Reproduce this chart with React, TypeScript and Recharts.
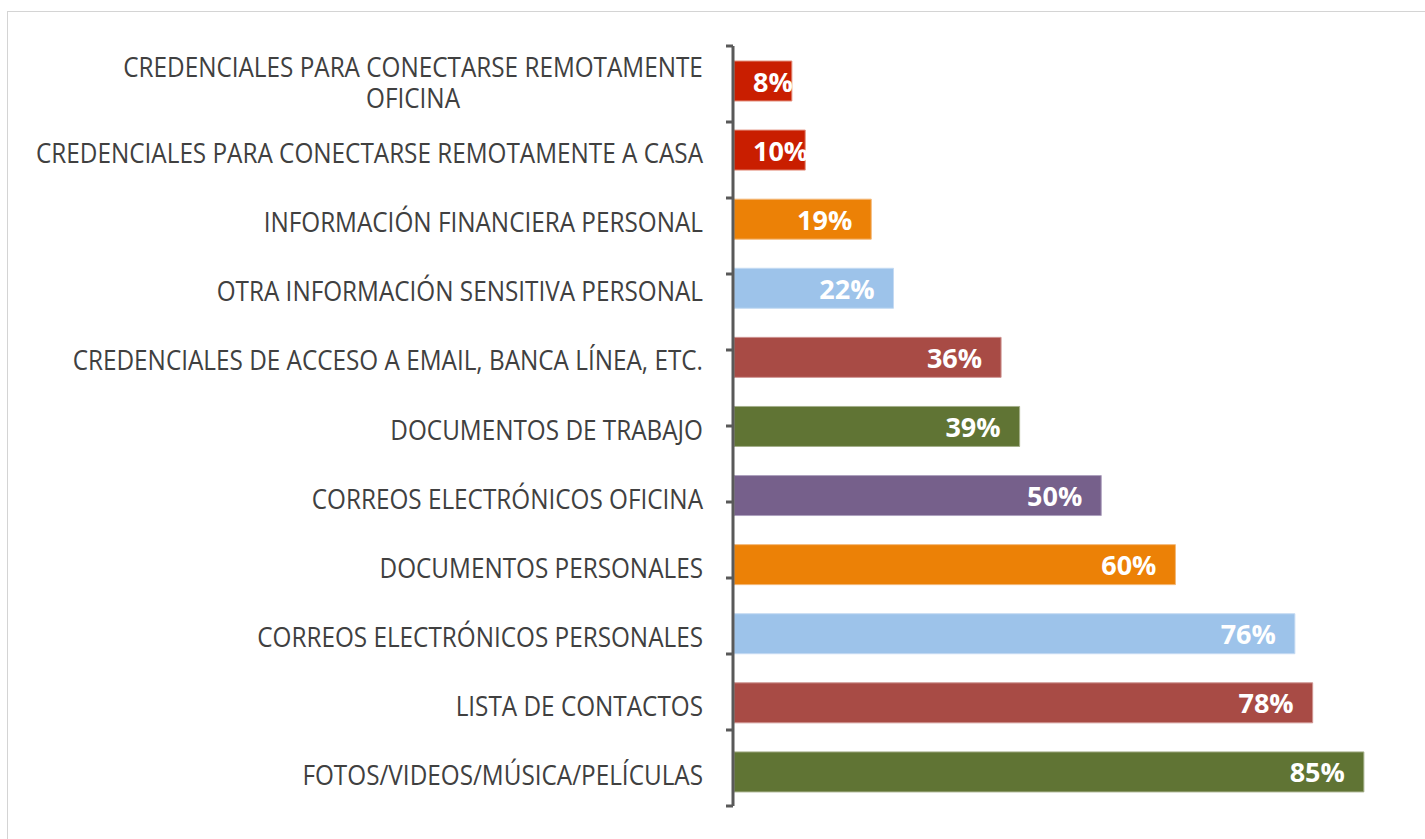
import { BarChart, Bar, XAxis, YAxis, Cell, LabelList } from "recharts";

const categories = [
  "CREDENCIALES PARA CONECTARSE REMOTAMENTE OFICINA",
  "CREDENCIALES PARA CONECTARSE REMOTAMENTE A CASA",
  "INFORMACIÓN FINANCIERA PERSONAL",
  "OTRA INFORMACIÓN SENSITIVA PERSONAL",
  "CREDENCIALES DE ACCESO A EMAIL, BANCA LÍNEA, ETC.",
  "DOCUMENTOS DE TRABAJO",
  "CORREOS ELECTRÓNICOS OFICINA",
  "DOCUMENTOS PERSONALES",
  "CORREOS ELECTRÓNICOS PERSONALES",
  "LISTA DE CONTACTOS",
  "FOTOS/VIDEOS/MÚSICA/PELÍCULAS",
];

// porcentajes (la etiqueta muestra el valor redondeado)
const values = [7.8, 9.6, 18.5, 21.5, 36.0, 38.5, 49.5, 59.5, 75.6, 78.0, 84.9];

const barColors = [
  "#C91E00", "#C91E00", "#EC8106", "#9DC3EA", "#A84B45", "#607434",
  "#76608B", "#EC8106", "#9DC3EA", "#A84B45", "#607434",
];
const barEdges = [
  "#E3907F", "#E3907F", "#F3B878", "#C4DAF3", "#CF9592", "#A4AF8A",
  "#ADA0BE", "#F3B878", "#C4DAF3", "#CF9592", "#A4AF8A",
];

const boundaryTicks = [0, 1, 2, 3, 4, 5, 6, 7, 8, 9, 10, 11];

const data = categories.map((name, i) => ({ name, value: values[i] }));

const FONT = '"Open Sans", sans-serif';
const CAT_SIZE = 27;
const CAT_SQUEEZE = 0.9; // imita una fuente condensada tipo Calibri
const MAX_LABEL_W = 680;
const LINE_GAP = 31;

let ctx: CanvasRenderingContext2D | null = null;
function measure(text: string, font: string) {
  if (!ctx) ctx = document.createElement("canvas").getContext("2d");
  if (!ctx) return text.length * 14;
  ctx.font = font;
  return ctx.measureText(text).width;
}

const catFont = `400 ${CAT_SIZE}px ${FONT}`;
const catWidth = (t: string) => measure(t, catFont) * CAT_SQUEEZE;

function wrap(text: string) {
  const lines: string[] = [];
  let cur = "";
  for (const w of text.split(" ")) {
    const next = cur ? cur + " " + w : w;
    if (cur && catWidth(next) > MAX_LABEL_W) {
      lines.push(cur);
      cur = w;
    } else cur = next;
  }
  if (cur) lines.push(cur);
  return lines;
}

function CategoryTick(props: any) {
  const { y, payload } = props;
  const lines = wrap(payload.value);
  const maxW = Math.max(...lines.map(catWidth));
  const right = 695;
  const multi = lines.length > 1;
  const lx = multi ? right - maxW / 2 : right;
  const top = y + (multi ? 1 : 3) - ((lines.length - 1) / 2) * LINE_GAP;
  return (
    <text
      transform={`translate(${lx},${top}) scale(${CAT_SQUEEZE},1)`}
      textAnchor={multi ? "middle" : "end"}
      dominantBaseline="central"
      fill="#404040"
      fontSize={CAT_SIZE}
      fontFamily={FONT}
    >
      {lines.map((l, i) => (
        <tspan key={i} x={0} y={i * LINE_GAP}>
          {l}
        </tspan>
      ))}
    </text>
  );
}

function NoTick() {
  return <g />;
}

function ValueLabel(props: any) {
  const vb = props.viewBox || {};
  const x = props.x ?? vb.x;
  const y = props.y ?? vb.y;
  const width = props.width ?? vb.width;
  const height = props.height ?? vb.height;
  const text = `${Math.round(props.value)}%`;
  const w = measure(text, `700 27px ${FONT}`);
  const right = Math.max(x + width - 19, x + 19 + w);
  return (
    <text
      x={right}
      y={y + height / 2}
      textAnchor="end"
      dominantBaseline="central"
      fill="#FFFFFF"
      fontSize={27}
      fontWeight={700}
      fontFamily={FONT}
    >
      {text}
    </text>
  );
}

export default function App() {
  return (
    <>
      <style>{`html, body { overflow: hidden; }`}</style>
      <div
        style={{
          position: "absolute",
          left: 7,
          top: 11,
          width: 1420,
          height: 840,
          border: "1px solid #D4D4D4",
          boxSizing: "border-box",
          background: "#fff",
        }}
      >
        <BarChart
          width={1400}
          height={826}
          data={data}
          layout="vertical"
          margin={{ top: 34, right: 6.3, bottom: 32, left: 0 }}
        >
          <XAxis type="number" domain={[0, 90]} hide />
          {/* eje con las marcas entre categorías (queda a la izquierda del eje de texto) */}
          <YAxis
            yAxisId="edges"
            type="number"
            domain={[0, 11]}
            ticks={boundaryTicks}
            interval={0}
            width={725}
            tick={<NoTick />}
            tickSize={7}
            axisLine={{ stroke: "#595959", strokeWidth: 3 }}
            tickLine={{ stroke: "#595959", strokeWidth: 3 }}
          />
          <YAxis
            yAxisId="cat"
            type="category"
            dataKey="name"
            width={1}
            axisLine={false}
            tickLine={false}
            interval={0}
            tick={<CategoryTick />}
          />
          <Bar
            yAxisId="cat"
            dataKey="value"
            barSize={40}
            strokeWidth={1}
            isAnimationActive={false}
          >
            {data.map((d, i) => (
              <Cell key={d.name} fill={barColors[i]} stroke={barEdges[i]} />
            ))}
            <LabelList dataKey="value" content={<ValueLabel />} />
          </Bar>
        </BarChart>
      </div>
    </>
  );
}
